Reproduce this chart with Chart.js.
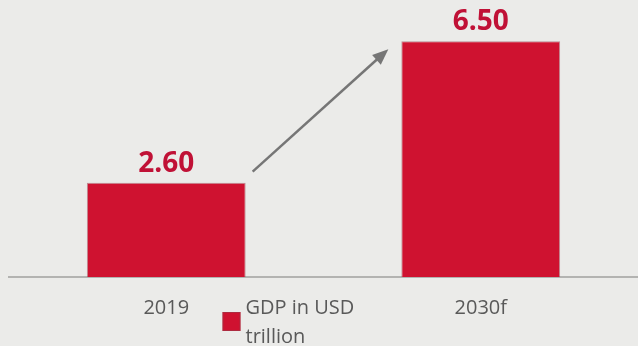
<!DOCTYPE html>
<html>
<head>
<meta charset="utf-8">
<script src="https://cdn.jsdelivr.net/npm/chart.js@4/dist/chart.umd.min.js"></script>
<style>
  html, body { margin: 0; padding: 0; background: #ebebe9; }
  #wrap { width: 638px; height: 346px; }
</style>
</head>
<body>
<div id="wrap"><canvas id="chart" width="638" height="346"></canvas></div>
<script>
// GDP figures (USD trillion)
const categories = ['2019', '2030f'];
const gdpValues = [2.60, 6.50];
const seriesLabel = ['GDP in USD', 'trillion'];

const BAR_RED = '#cf1230';
const LABEL_RED = '#c01136';
const TEXT_GREY = '#595959';
const FONT = '"Open Sans", "DejaVu Sans", sans-serif';

// Value labels above each bar
const valueLabels = {
  id: 'valueLabels',
  afterDatasetsDraw(chart) {
    const ctx = chart.ctx;
    const meta = chart.getDatasetMeta(0);
    ctx.save();
    ctx.font = 'bold 28px ' + FONT;
    ctx.fillStyle = LABEL_RED;
    ctx.textAlign = 'center';
    ctx.textBaseline = 'middle';
    meta.data.forEach((bar, i) => {
      const v = chart.data.datasets[0].data[i];
      ctx.fillText(v.toFixed(2), bar.x, bar.y - 19);
    });
    ctx.restore();
  }
};

// Growth arrow from the first bar toward the second
const growthArrow = {
  id: 'growthArrow',
  afterDatasetsDraw(chart) {
    const meta = chart.getDatasetMeta(0);
    const a = meta.data[0], b = meta.data[1];
    const x0 = a.x + a.width / 2 + 7, y0 = a.y - 11;
    const x1 = b.x - b.width / 2 - 13, y1 = b.y + 8;
    const ang = Math.atan2(y1 - y0, x1 - x0);
    const head = 16, half = 6.5;
    const ctx = chart.ctx;
    ctx.save();
    ctx.strokeStyle = '#767676';
    ctx.fillStyle = '#767676';
    ctx.lineWidth = 2.5;
    ctx.beginPath();
    ctx.moveTo(x0, y0);
    ctx.lineTo(x1 - Math.cos(ang) * head * 0.8, y1 - Math.sin(ang) * head * 0.8);
    ctx.stroke();
    ctx.beginPath();
    ctx.moveTo(x1, y1);
    const bx = x1 - Math.cos(ang) * head, by = y1 - Math.sin(ang) * head;
    ctx.lineTo(bx + Math.sin(ang) * half, by - Math.cos(ang) * half);
    ctx.lineTo(bx - Math.sin(ang) * half, by + Math.cos(ang) * half);
    ctx.closePath();
    ctx.fill();
    ctx.restore();
  }
};

// Two-line legend placed between the categories
const wrappedLegend = {
  id: 'wrappedLegend',
  afterDraw(chart) {
    const ctx = chart.ctx;
    const area = chart.chartArea;
    const ds = chart.data.datasets[0];
    const cx = (area.left + area.right) / 2;
    const boxX = cx - 101, boxY = area.bottom + 35;
    ctx.save();
    ctx.fillStyle = ds.backgroundColor;
    ctx.fillRect(boxX, boxY, 18, 19);
    ctx.strokeStyle = 'rgba(150,60,75,0.6)';
    ctx.lineWidth = 1;
    ctx.strokeRect(boxX + 0.5, boxY + 0.5, 17, 18);
    ctx.font = '20px ' + FONT;
    ctx.fillStyle = TEXT_GREY;
    ctx.textAlign = 'left';
    ctx.textBaseline = 'middle';
    seriesLabel.forEach((line, i) => {
      ctx.fillText(line, boxX + 23, area.bottom + 31 + i * 29);
    });
    ctx.restore();
  }
};

new Chart(document.getElementById('chart'), {
  type: 'bar',
  data: {
    labels: categories,
    datasets: [{
      label: seriesLabel.join(' '),
      data: gdpValues,
      backgroundColor: BAR_RED,
      borderColor: 'rgba(150,60,75,0.55)',
      borderWidth: 1,
      categoryPercentage: 1,
      barPercentage: 0.505
    }]
  },
  options: {
    responsive: false,
    animation: false,
    layout: { padding: { left: 9, right: 0, top: 23, bottom: 7 } },
    plugins: {
      legend: { display: false },
      tooltip: { enabled: false }
    },
    scales: {
      x: {
        grid: { display: false, drawTicks: false },
        border: { display: true, color: '#b3b3b1', width: 2 },
        ticks: { color: TEXT_GREY, font: { family: FONT, size: 20 }, padding: 19 }
      },
      y: {
        display: false,
        min: 0,
        max: 7
      }
    }
  },
  plugins: [valueLabels, growthArrow, wrappedLegend]
});
</script>
</body>
</html>
